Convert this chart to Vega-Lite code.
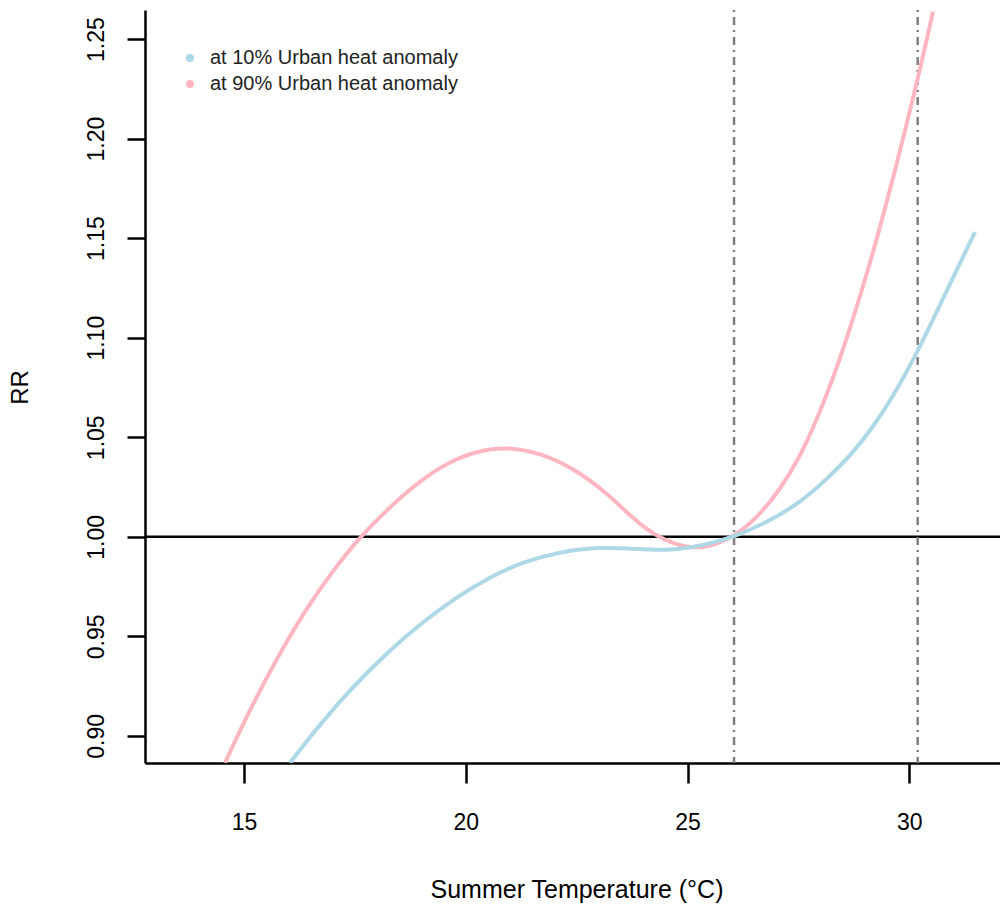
{
  "$schema": "https://vega.github.io/schema/vega-lite/v6.json",
  "autosize": "none",
  "padding": {"left": 145, "top": 10, "right": 0, "bottom": 144},
  "width": 855,
  "height": 753,
  "config": {"font": "Liberation Sans", "view": {"stroke": null}},
  "datasets": {
    "curves": [
      {"t": 14.572, "rr": 0.8865, "series": "at 90% Urban heat anomaly"},
      {"t": 15.135, "rr": 0.9135, "series": "at 90% Urban heat anomaly"},
      {"t": 15.812, "rr": 0.9418, "series": "at 90% Urban heat anomaly"},
      {"t": 16.421, "rr": 0.9645, "series": "at 90% Urban heat anomaly"},
      {"t": 17.007, "rr": 0.9830, "series": "at 90% Urban heat anomaly"},
      {"t": 17.616, "rr": 1.0000, "series": "at 90% Urban heat anomaly"},
      {"t": 18.292, "rr": 1.0151, "series": "at 90% Urban heat anomaly"},
      {"t": 19.036, "rr": 1.0296, "series": "at 90% Urban heat anomaly"},
      {"t": 19.803, "rr": 1.0397, "series": "at 90% Urban heat anomaly"},
      {"t": 20.389, "rr": 1.0437, "series": "at 90% Urban heat anomaly"},
      {"t": 20.930, "rr": 1.0450, "series": "at 90% Urban heat anomaly"},
      {"t": 21.674, "rr": 1.0422, "series": "at 90% Urban heat anomaly"},
      {"t": 22.418, "rr": 1.0346, "series": "at 90% Urban heat anomaly"},
      {"t": 23.185, "rr": 1.0221, "series": "at 90% Urban heat anomaly"},
      {"t": 23.771, "rr": 1.0090, "series": "at 90% Urban heat anomaly"},
      {"t": 24.312, "rr": 0.9998, "series": "at 90% Urban heat anomaly"},
      {"t": 24.989, "rr": 0.9940, "series": "at 90% Urban heat anomaly"},
      {"t": 25.507, "rr": 0.9950, "series": "at 90% Urban heat anomaly"},
      {"t": 26.049, "rr": 1.0000, "series": "at 90% Urban heat anomaly"},
      {"t": 26.567, "rr": 1.0095, "series": "at 90% Urban heat anomaly"},
      {"t": 27.086, "rr": 1.0236, "series": "at 90% Urban heat anomaly"},
      {"t": 27.537, "rr": 1.0402, "series": "at 90% Urban heat anomaly"},
      {"t": 27.920, "rr": 1.0590, "series": "at 90% Urban heat anomaly"},
      {"t": 28.281, "rr": 1.0796, "series": "at 90% Urban heat anomaly"},
      {"t": 28.597, "rr": 1.0998, "series": "at 90% Urban heat anomaly"},
      {"t": 29.048, "rr": 1.1323, "series": "at 90% Urban heat anomaly"},
      {"t": 29.340, "rr": 1.1554, "series": "at 90% Urban heat anomaly"},
      {"t": 29.634, "rr": 1.1801, "series": "at 90% Urban heat anomaly"},
      {"t": 29.949, "rr": 1.2078, "series": "at 90% Urban heat anomaly"},
      {"t": 30.175, "rr": 1.2286, "series": "at 90% Urban heat anomaly"},
      {"t": 30.400, "rr": 1.2502, "series": "at 90% Urban heat anomaly"},
      {"t": 30.535, "rr": 1.2637, "series": "at 90% Urban heat anomaly"},
      {"t": 16.037, "rr": 0.8865, "series": "at 10% Urban heat anomaly"},
      {"t": 16.646, "rr": 0.9040, "series": "at 10% Urban heat anomaly"},
      {"t": 17.390, "rr": 0.9232, "series": "at 10% Urban heat anomaly"},
      {"t": 18.292, "rr": 0.9433, "series": "at 10% Urban heat anomaly"},
      {"t": 19.036, "rr": 0.9573, "series": "at 10% Urban heat anomaly"},
      {"t": 19.803, "rr": 0.9699, "series": "at 10% Urban heat anomaly"},
      {"t": 20.547, "rr": 0.9799, "series": "at 10% Urban heat anomaly"},
      {"t": 21.291, "rr": 0.9874, "series": "at 10% Urban heat anomaly"},
      {"t": 22.125, "rr": 0.9925, "series": "at 10% Urban heat anomaly"},
      {"t": 23.027, "rr": 0.9950, "series": "at 10% Urban heat anomaly"},
      {"t": 23.929, "rr": 0.9937, "series": "at 10% Urban heat anomaly"},
      {"t": 24.538, "rr": 0.9932, "series": "at 10% Urban heat anomaly"},
      {"t": 25.056, "rr": 0.9945, "series": "at 10% Urban heat anomaly"},
      {"t": 25.575, "rr": 0.9970, "series": "at 10% Urban heat anomaly"},
      {"t": 26.049, "rr": 1.0000, "series": "at 10% Urban heat anomaly"},
      {"t": 26.793, "rr": 1.0072, "series": "at 10% Urban heat anomaly"},
      {"t": 27.537, "rr": 1.0171, "series": "at 10% Urban heat anomaly"},
      {"t": 28.146, "rr": 1.0290, "series": "at 10% Urban heat anomaly"},
      {"t": 28.732, "rr": 1.0422, "series": "at 10% Urban heat anomaly"},
      {"t": 29.183, "rr": 1.0552, "series": "at 10% Urban heat anomaly"},
      {"t": 29.634, "rr": 1.0703, "series": "at 10% Urban heat anomaly"},
      {"t": 30.175, "rr": 1.0924, "series": "at 10% Urban heat anomaly"},
      {"t": 30.694, "rr": 1.1165, "series": "at 10% Urban heat anomaly"},
      {"t": 31.144, "rr": 1.1375, "series": "at 10% Urban heat anomaly"},
      {"t": 31.483, "rr": 1.1531, "series": "at 10% Urban heat anomaly"}
    ],
    "vlines": [{"t": 26.049}, {"t": 30.19}]
  },
  "layer": [
    {
      "data": {"values": [{"rr": 1.0}]},
      "mark": {"type": "rule", "color": "black", "strokeWidth": 2.5},
      "encoding": {"y": {"field": "rr", "type": "quantitative"}}
    },
    {
      "data": {"name": "vlines"},
      "mark": {"type": "rule", "color": "#808080", "strokeWidth": 2.5, "strokeDash": [2, 5, 8, 5]},
      "encoding": {"x": {"field": "t", "type": "quantitative"}}
    },
    {
      "data": {"name": "curves"},
      "mark": {"type": "line", "strokeWidth": 4, "clip": true, "interpolate": "basis"},
      "encoding": {
        "x": {
          "field": "t", "type": "quantitative",
          "scale": {"domain": [12.768, 32.046], "nice": false, "zero": false},
          "axis": {
            "title": "Summer Temperature (°C)",
            "values": [15, 20, 25, 30],
            "grid": false,
            "domainColor": "black", "domainWidth": 2.5,
            "tickColor": "black", "tickWidth": 2.5, "tickSize": 20,
            "labelFontSize": 23, "labelColor": "black", "labelBaseline": "alphabetic", "labelPadding": 46,
            "titleFontSize": 25, "titleFontWeight": "normal", "titleColor": "black",
            "titleX": 431.5, "titleY": 134, "titleBaseline": "alphabetic", "titleAlign": "center"
          }
        },
        "y": {
          "field": "rr", "type": "quantitative",
          "scale": {"domain": [0.8864, 1.2646], "nice": false, "zero": false},
          "axis": {
            "title": "RR",
            "values": [0.9, 0.95, 1.0, 1.05, 1.1, 1.15, 1.2, 1.25],
            "format": ".2f",
            "grid": false,
            "domainColor": "black", "domainWidth": 2.5,
            "tickColor": "black", "tickWidth": 2.5, "tickSize": 18,
            "labelFontSize": 23, "labelColor": "black", "labelAngle": 270,
            "labelAlign": "center", "labelBaseline": "alphabetic", "labelPadding": 24,
            "titleFontSize": 24, "titleFontWeight": "normal", "titleColor": "black",
            "titleAngle": 270, "titleX": -118, "titleY": 377, "titleBaseline": "alphabetic", "titleAlign": "center"
          }
        },
        "color": {
          "field": "series", "type": "nominal",
          "scale": {
            "domain": ["at 10% Urban heat anomaly", "at 90% Urban heat anomaly"],
            "range": ["#ADD8E6", "#FFB6C1"]
          },
          "legend": {
            "title": null,
            "orient": "none",
            "legendX": 35,
            "legendY": 38,
            "symbolType": "circle",
            "symbolSize": 16,
            "symbolStrokeWidth": 4,
            "labelFontSize": 20,
            "labelLimit": 500,
            "labelColor": "#222222",
            "labelOffset": 10,
            "rowPadding": 6
          }
        }
      }
    }
  ]
}
